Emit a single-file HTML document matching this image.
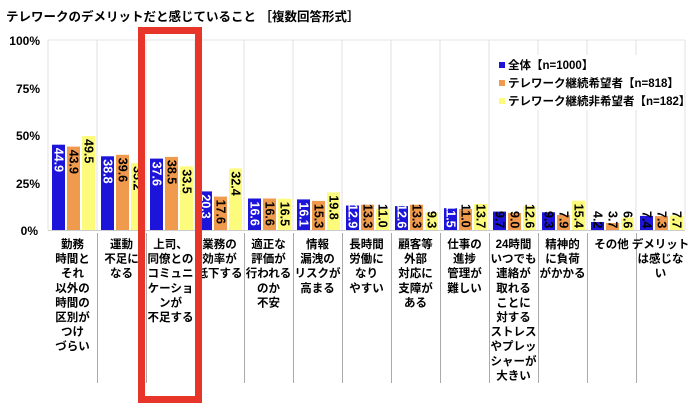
<!DOCTYPE html>
<html><head><meta charset="utf-8"><style>
html,body{margin:0;padding:0;background:#fff;}
svg{display:block;font-family:"Liberation Sans","Noto Sans CJK JP",sans-serif;font-weight:bold;}
.v{font-size:12.5px;}
.v text{dominant-baseline:central;}
.w{fill:#fff}
.l{font-size:11.5px;text-anchor:middle;}
</style></head><body>
<svg width="700" height="413" viewBox="0 0 700 413" xmlns="http://www.w3.org/2000/svg">
<text x="6" y="21" font-size="12.5">テレワークのデメリットだと感じていること ［複数回答形式］</text>
<g font-size="12" text-anchor="end">
<text x="40" y="45">100%</text><text x="40" y="93">75%</text><text x="40" y="140">50%</text><text x="40" y="188">25%</text><text x="38" y="235">0%</text>
</g>
<line x1="48" y1="40" x2="685" y2="40" stroke="#e6e6e6"/>
<g stroke="#e0e0e0">
<line x1="48" y1="40" x2="48" y2="230"/><line x1="97" y1="40" x2="97" y2="230"/><line x1="146" y1="40" x2="146" y2="230"/><line x1="195" y1="40" x2="195" y2="230"/><line x1="244" y1="40" x2="244" y2="230"/><line x1="293" y1="40" x2="293" y2="230"/><line x1="342" y1="40" x2="342" y2="230"/><line x1="391" y1="40" x2="391" y2="230"/><line x1="440" y1="40" x2="440" y2="230"/><line x1="489" y1="40" x2="489" y2="230"/><line x1="538" y1="40" x2="538" y2="230"/><line x1="587" y1="40" x2="587" y2="230"/><line x1="636" y1="40" x2="636" y2="230"/><line x1="685" y1="40" x2="685" y2="230"/>
</g>
<g stroke="#aaa">
<line x1="97.5" y1="233" x2="97.5" y2="383"/><line x1="146.5" y1="233" x2="146.5" y2="383"/><line x1="195.5" y1="233" x2="195.5" y2="383"/><line x1="244.5" y1="233" x2="244.5" y2="383"/><line x1="293.5" y1="233" x2="293.5" y2="383"/><line x1="342.5" y1="233" x2="342.5" y2="383"/><line x1="391.5" y1="233" x2="391.5" y2="383"/><line x1="440.5" y1="233" x2="440.5" y2="383"/><line x1="489.5" y1="233" x2="489.5" y2="383"/><line x1="538.5" y1="233" x2="538.5" y2="383"/><line x1="587.5" y1="233" x2="587.5" y2="383"/><line x1="636.5" y1="233" x2="636.5" y2="383"/>
</g>
<line x1="48" y1="230.5" x2="685" y2="230.5" stroke="#ccc"/>
<rect x="493" y="55" width="190" height="55" fill="#fff"/>
<g fill="#1c14d8">
<rect x="52" y="144.7" width="13" height="85.3"/><rect x="101" y="156.3" width="13" height="73.7"/><rect x="150" y="158.6" width="13" height="71.4"/><rect x="199" y="191.4" width="13" height="38.6"/><rect x="248" y="198.5" width="13" height="31.5"/><rect x="297" y="199.4" width="13" height="30.6"/><rect x="346" y="205.5" width="13" height="24.5"/><rect x="395" y="206.1" width="13" height="23.9"/><rect x="444" y="208.2" width="13" height="21.8"/><rect x="493" y="211.6" width="13" height="18.4"/><rect x="542" y="212.3" width="13" height="17.7"/><rect x="591" y="222" width="13" height="8"/><rect x="640" y="215.9" width="13" height="14.1"/>
</g>
<g fill="#ef9a4c">
<rect x="67" y="146.6" width="13" height="83.4"/><rect x="116" y="154.8" width="13" height="75.2"/><rect x="165" y="156.9" width="13" height="73.1"/><rect x="214" y="196.6" width="13" height="33.4"/><rect x="263" y="198.5" width="13" height="31.5"/><rect x="312" y="200.9" width="13" height="29.1"/><rect x="361" y="204.7" width="13" height="25.3"/><rect x="410" y="204.7" width="13" height="25.3"/><rect x="459" y="209.1" width="13" height="20.9"/><rect x="508" y="212.9" width="13" height="17.1"/><rect x="557" y="215" width="13" height="15"/><rect x="606" y="223" width="13" height="7"/><rect x="655" y="216.1" width="13" height="13.9"/>
</g>
<g fill="#fdfb7c">
<rect x="82" y="136" width="13" height="94"/><rect x="131" y="163.1" width="13" height="66.9"/><rect x="180" y="166.4" width="13" height="63.6"/><rect x="229" y="168.4" width="13" height="61.6"/><rect x="278" y="198.7" width="13" height="31.3"/><rect x="327" y="192.4" width="13" height="37.6"/><rect x="376" y="209.1" width="13" height="20.9"/><rect x="425" y="212.3" width="13" height="17.7"/><rect x="474" y="204" width="13" height="26"/><rect x="523" y="206.1" width="13" height="23.9"/><rect x="572" y="200.7" width="13" height="29.3"/><rect x="621" y="217.5" width="13" height="12.5"/><rect x="670" y="215.4" width="13" height="14.6"/>
</g>
<g class="v">
<text class="w" transform="translate(58.5,147.7) rotate(90)">44.9</text>
<text transform="translate(73.5,149.6) rotate(90)">43.9</text>
<text transform="translate(88.5,139) rotate(90)">49.5</text>
<text class="w" transform="translate(107.5,159.3) rotate(90)">38.8</text>
<text transform="translate(122.5,157.8) rotate(90)">39.6</text>
<text transform="translate(137.5,166.1) rotate(90)">35.2</text>
<text class="w" transform="translate(156.5,161.6) rotate(90)">37.6</text>
<text transform="translate(171.5,159.9) rotate(90)">38.5</text>
<text transform="translate(186.5,169.4) rotate(90)">33.5</text>
<text class="w" transform="translate(205.5,194.4) rotate(90)">20.3</text>
<text transform="translate(220.5,199.6) rotate(90)">17.6</text>
<text transform="translate(235.5,171.4) rotate(90)">32.4</text>
<text class="w" transform="translate(254.5,201.5) rotate(90)">16.6</text>
<text transform="translate(269.5,201.5) rotate(90)">16.6</text>
<text transform="translate(284.5,201.7) rotate(90)">16.5</text>
<text class="w" transform="translate(303.5,202.4) rotate(90)">16.1</text>
<text transform="translate(318.5,203.9) rotate(90)">15.3</text>
<text transform="translate(333.5,195.4) rotate(90)">19.8</text>
<text class="w" transform="translate(352.5,204) rotate(90)">12.9</text>
<text transform="translate(367.5,204) rotate(90)">13.3</text>
<text transform="translate(382.5,204) rotate(90)">11.0</text>
<text class="w" transform="translate(401.5,204) rotate(90)">12.6</text>
<text transform="translate(416.5,204) rotate(90)">13.3</text>
<text transform="translate(431.5,211) rotate(90)">9.3</text>
<text class="w" transform="translate(450.5,204) rotate(90)">11.5</text>
<text transform="translate(465.5,204) rotate(90)">11.0</text>
<text transform="translate(480.5,204) rotate(90)">13.7</text>
<text transform="translate(499.5,211) rotate(90)">9.7</text>
<text transform="translate(514.5,211) rotate(90)">9.0</text>
<text transform="translate(529.5,204) rotate(90)">12.6</text>
<text transform="translate(548.5,211) rotate(90)">9.3</text>
<text transform="translate(563.5,211) rotate(90)">7.9</text>
<text transform="translate(578.5,203.7) rotate(90)">15.4</text>
<text transform="translate(597.5,211) rotate(90)">4.2</text>
<text transform="translate(612.5,211) rotate(90)">3.7</text>
<text transform="translate(627.5,211) rotate(90)">6.6</text>
<text transform="translate(646.5,211) rotate(90)">7.4</text>
<text transform="translate(661.5,211) rotate(90)">7.3</text>
<text transform="translate(676.5,211) rotate(90)">7.7</text>
</g>
<g font-size="11.5">
<rect x="499" y="62" width="6" height="6" fill="#1c14d8"/><text x="508" y="69">全体【n=1000】</text>
<rect x="499" y="80" width="6" height="6" fill="#ef9a4c"/><text x="508" y="87">テレワーク継続希望者【n=818】</text>
<rect x="499" y="98" width="6" height="6" fill="#fdfb7c"/><text x="508" y="105">テレワーク継続非希望者【n=182】</text>
</g>
<g class="l">
<text y="248"><tspan x="72.5">勤務</tspan><tspan x="72.5" dy="14.6">時間と</tspan><tspan x="72.5" dy="14.6">それ</tspan><tspan x="72.5" dy="14.6">以外の</tspan><tspan x="72.5" dy="14.6">時間の</tspan><tspan x="72.5" dy="14.6">区別が</tspan><tspan x="72.5" dy="14.6">つけ</tspan><tspan x="72.5" dy="14.6">づらい</tspan></text>
<text y="248"><tspan x="121.5">運動</tspan><tspan x="121.5" dy="14.6">不足に</tspan><tspan x="121.5" dy="14.6">なる</tspan></text>
<text y="248"><tspan x="170.5">上司、</tspan><tspan x="170.5" dy="14.6">同僚との</tspan><tspan x="170.5" dy="14.6">コミュニ</tspan><tspan x="170.5" dy="14.6">ケーショ</tspan><tspan x="170.5" dy="14.6">ンが</tspan><tspan x="170.5" dy="14.6">不足する</tspan></text>
<text y="248"><tspan x="219.5">業務の</tspan><tspan x="219.5" dy="14.6">効率が</tspan><tspan x="219.5" dy="14.6">低下する</tspan></text>
<text y="248"><tspan x="268.5">適正な</tspan><tspan x="268.5" dy="14.6">評価が</tspan><tspan x="268.5" dy="14.6">行われる</tspan><tspan x="268.5" dy="14.6">のか</tspan><tspan x="268.5" dy="14.6">不安</tspan></text>
<text y="248"><tspan x="317.5">情報</tspan><tspan x="317.5" dy="14.6">漏洩の</tspan><tspan x="317.5" dy="14.6">リスクが</tspan><tspan x="317.5" dy="14.6">高まる</tspan></text>
<text y="248"><tspan x="366.5">長時間</tspan><tspan x="366.5" dy="14.6">労働に</tspan><tspan x="366.5" dy="14.6">なり</tspan><tspan x="366.5" dy="14.6">やすい</tspan></text>
<text y="248"><tspan x="415.5">顧客等</tspan><tspan x="415.5" dy="14.6">外部</tspan><tspan x="415.5" dy="14.6">対応に</tspan><tspan x="415.5" dy="14.6">支障が</tspan><tspan x="415.5" dy="14.6">ある</tspan></text>
<text y="248"><tspan x="464.5">仕事の</tspan><tspan x="464.5" dy="14.6">進捗</tspan><tspan x="464.5" dy="14.6">管理が</tspan><tspan x="464.5" dy="14.6">難しい</tspan></text>
<text y="248"><tspan x="513.5">24時間</tspan><tspan x="513.5" dy="14.6">いつでも</tspan><tspan x="513.5" dy="14.6">連絡が</tspan><tspan x="513.5" dy="14.6">取れる</tspan><tspan x="513.5" dy="14.6">ことに</tspan><tspan x="513.5" dy="14.6">対する</tspan><tspan x="513.5" dy="14.6">ストレス</tspan><tspan x="513.5" dy="14.6">やプレッ</tspan><tspan x="513.5" dy="14.6">シャーが</tspan><tspan x="513.5" dy="14.6">大きい</tspan></text>
<text y="248"><tspan x="562.5">精神的</tspan><tspan x="562.5" dy="14.6">に負荷</tspan><tspan x="562.5" dy="14.6">がかかる</tspan></text>
<text y="248"><tspan x="611.5">その他</tspan></text>
<text y="248"><tspan x="660.5">デメリット</tspan><tspan x="660.5" dy="14.6">は感じな</tspan><tspan x="660.5" dy="14.6">い</tspan></text>
</g>
<rect x="141.5" y="30.5" width="57" height="369" fill="none" stroke="#e8352a" stroke-width="7"/>
</svg>
</body></html>
